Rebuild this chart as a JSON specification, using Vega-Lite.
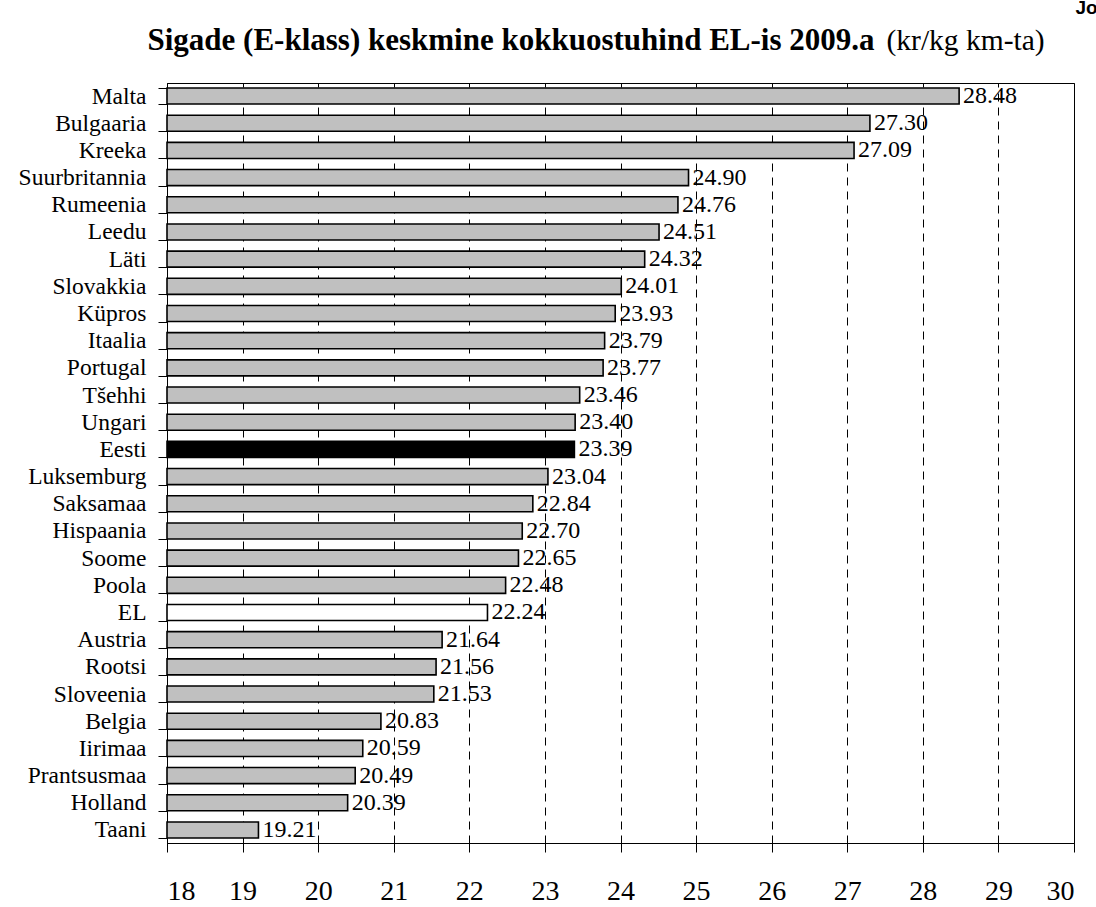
{
  "$schema": "https://vega.github.io/schema/vega-lite/v6.json",
  "autosize": "none",
  "width": 907,
  "height": 760,
  "padding": {"left": 167, "top": 83, "right": 22, "bottom": 64},
  "background": "white",
  "config": {
    "font": "Times New Roman, Liberation Serif, serif",
    "view": {"stroke": "black", "strokeWidth": 1},
    "axis": {"labelColor": "black", "tickColor": "black", "domainColor": "black", "labelFont": "Times New Roman, Liberation Serif, serif", "titleFont": "Times New Roman, Liberation Serif, serif"}
  },
  "resolve": {"axis": {"x": "independent"}},
  "data": {
    "values": [
      {"country": "Malta", "value": 28.48, "group": "riik"},
      {"country": "Bulgaaria", "value": 27.30, "group": "riik"},
      {"country": "Kreeka", "value": 27.09, "group": "riik"},
      {"country": "Suurbritannia", "value": 24.90, "group": "riik"},
      {"country": "Rumeenia", "value": 24.76, "group": "riik"},
      {"country": "Leedu", "value": 24.51, "group": "riik"},
      {"country": "Läti", "value": 24.32, "group": "riik"},
      {"country": "Slovakkia", "value": 24.01, "group": "riik"},
      {"country": "Küpros", "value": 23.93, "group": "riik"},
      {"country": "Itaalia", "value": 23.79, "group": "riik"},
      {"country": "Portugal", "value": 23.77, "group": "riik"},
      {"country": "Tšehhi", "value": 23.46, "group": "riik"},
      {"country": "Ungari", "value": 23.40, "group": "riik"},
      {"country": "Eesti", "value": 23.39, "group": "Eesti"},
      {"country": "Luksemburg", "value": 23.04, "group": "riik"},
      {"country": "Saksamaa", "value": 22.84, "group": "riik"},
      {"country": "Hispaania", "value": 22.70, "group": "riik"},
      {"country": "Soome", "value": 22.65, "group": "riik"},
      {"country": "Poola", "value": 22.48, "group": "riik"},
      {"country": "EL", "value": 22.24, "group": "EL"},
      {"country": "Austria", "value": 21.64, "group": "riik"},
      {"country": "Rootsi", "value": 21.56, "group": "riik"},
      {"country": "Sloveenia", "value": 21.53, "group": "riik"},
      {"country": "Belgia", "value": 20.83, "group": "riik"},
      {"country": "Iirimaa", "value": 20.59, "group": "riik"},
      {"country": "Prantsusmaa", "value": 20.49, "group": "riik"},
      {"country": "Holland", "value": 20.39, "group": "riik"},
      {"country": "Taani", "value": 19.21, "group": "riik"}
    ]
  },
  "encoding": {
    "y": {
      "field": "country",
      "type": "nominal",
      "sort": null,
      "scale": {"paddingInner": 0.41, "paddingOuter": 0.185},
      "axis": {
        "title": "Jo",
        "titleAngle": 0,
        "titleX": 908,
        "titleY": -70,
        "titleAlign": "left",
        "titleBaseline": "alphabetic",
        "titleFont": "Liberation Sans, Arial, sans-serif",
        "titleFontWeight": "bold",
        "titleFontSize": 19,
        "titleColor": "black",
        "labelFont": "Times New Roman, Liberation Serif, serif",
        "labelFontSize": 23.5,
        "labelPadding": 12,
        "tickSize": 9,
        "tickBand": "extent",
        "domain": true,
        "grid": false
      }
    }
  },
  "layer": [
    {
      "mark": {"type": "bar", "stroke": "black", "strokeWidth": 1.6},
      "encoding": {
        "x": {
          "field": "value",
          "type": "quantitative",
          "scale": {"domain": [18, 30], "nice": false, "zero": false},
          "axis": {
            "orient": "bottom",
            "values": [18, 19, 20, 21, 22, 23, 24, 25, 26, 27, 28, 29, 30],
            "format": "d",
            "labelFont": "Times New Roman, Liberation Serif, serif",
            "labelFontSize": 28,
            "labelPadding": 25,
            "tickSize": 9,
            "grid": true,
            "gridColor": "black",
            "gridDash": [8, 6],
            "gridWidth": 1,
            "gridOpacity": 1,
            "title": "(kr/kg km-ta)",
            "titleX": 719,
            "titleY": -794,
            "titleAlign": "left",
            "titleBaseline": "alphabetic",
            "titleFontSize": 29.5,
            "titleFontWeight": "normal",
            "titleColor": "black"
          }
        },
        "x2": {"datum": 18},
        "fill": {
          "field": "group",
          "type": "nominal",
          "scale": {"domain": ["riik", "Eesti", "EL"], "range": ["#c0c0c0", "#000000", "#ffffff"]},
          "legend": null
        }
      }
    },
    {
      "mark": {"type": "text", "align": "left", "baseline": "middle", "dx": 4, "fontSize": 24, "color": "black", "font": "Times New Roman, Liberation Serif, serif"},
      "encoding": {
        "x": {
          "field": "value",
          "type": "quantitative",
          "axis": {
            "orient": "top",
            "labels": false,
            "ticks": false,
            "domain": false,
            "grid": false,
            "title": "Sigade (E-klass) keskmine kokkuostuhind EL-is 2009.a",
            "titleX": -20,
            "titleY": -34,
            "titleAlign": "left",
            "titleBaseline": "alphabetic",
            "titleFontSize": 31,
            "titleFontWeight": "bold",
            "titleColor": "black"
          }
        },
        "text": {"field": "value", "type": "quantitative", "format": ".2f"}
      }
    }
  ]
}
